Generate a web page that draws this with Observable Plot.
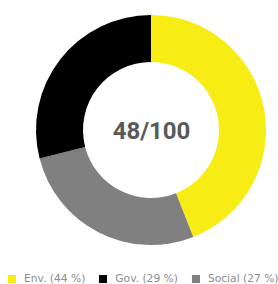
<!DOCTYPE html>
<html>
<head>
<meta charset="utf-8">
<script src="https://cdn.jsdelivr.net/npm/d3@7"></script>
<script src="https://cdn.jsdelivr.net/npm/@observablehq/plot@0.6"></script>
<style>
  html, body { margin: 0; padding: 0; background: #fff; width: 278px; height: 284px; overflow: hidden; }
  #chart svg { display: block; }
  .lg-swatches { margin: 11px 0 0 8px !important; min-height: 12px !important; height: 12px; font-family: "DejaVu Sans", sans-serif !important; font-size: 10.7px !important; color: #8c8c8c !important; line-height: 12px; white-space: nowrap; flex-wrap: nowrap !important; }
  .lg-swatch { margin-right: 14px !important; }
  .lg-swatch > svg { margin-right: 8px !important; }
</style>
</head>
<body>
<div id="chart"></div>
<script>
// Data
const categories = ["Env.", "Gov.", "Social"];
const shares = [44, 29, 27];
const colors = ["#f8ec15", "#000000", "#808080"];
const arcOrder = ["Env.", "Social", "Gov."]; // clockwise from 12 o'clock
const score = 48;
const scoreMax = 100;

const rows = categories.map((c, i) => ({name: c, value: shares[i]}));
const arcRows = arcOrder.map(n => rows.find(r => r.name === n));
const innerFrac = 68 / 115;

function donut(index, scales, values, dimensions) {
  const cx = scales.x(0), cy = scales.y(0);
  const R = scales.x(1) - cx;
  const pie = d3.pie().sort(null).value(d => d.value)(arcRows);
  const arc = d3.arc().innerRadius(R * innerFrac).outerRadius(R);
  const g = d3.create("svg:g").attr("transform", `translate(${cx},${cy})`);
  g.selectAll("path").data(pie).join("path")
    .attr("d", arc)
    .attr("fill", d => scales.color(d.data.name));
  return g.node();
}

const plot = Plot.plot({
  width: 278,
  height: 262,
  margin: 0,
  x: {domain: [-1, 1], range: [36, 266], axis: null},
  y: {domain: [-1, 1], range: [245, 15], axis: null},
  color: {domain: categories, range: colors},
  marks: [
    Plot.dot(rows, {x: () => 0, y: () => 0, fill: "name", r: 0}),
    donut,
    Plot.text([`${score}/${scoreMax}`], {
      x: () => 0, y: () => 0, text: d => d,
      fontSize: 24, fontWeight: "bold", fill: "#595959",
      fontFamily: "Roboto, sans-serif", dy: 1
    })
  ]
});

const legend = plot.legend("color", {
  className: "lg",
  swatchSize: 8,
  tickFormat: d => `${d} (${shares[categories.indexOf(d)]} %)`
});

const el = document.getElementById("chart");
el.appendChild(plot);
el.appendChild(legend);
</script>
</body>
</html>
